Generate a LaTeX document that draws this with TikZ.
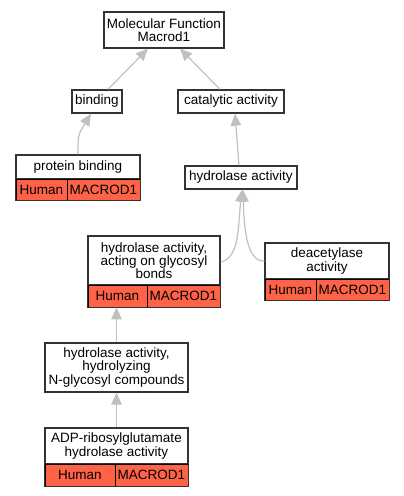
\documentclass[tikz,border=0pt]{standalone}
\usepackage{fontspec}
\setmainfont{Liberation Sans}
\usetikzlibrary{arrows.meta,calc}
\definecolor{cellred}{HTML}{FF6347}
\definecolor{edgegray}{HTML}{C0C0C0}
\definecolor{boxline}{HTML}{333333}
\begin{document}
\begin{tikzpicture}[x=1pt,y=-1pt,
  every node/.style={font=\fontsize{13.5}{13.3}\selectfont, inner sep=0pt, align=center},
  term/.style={draw=boxline, line width=1.3pt, fill=white, minimum width=#1},
  cell/.style={draw=black, line width=0.8pt, fill=cellred, minimum width=#1},
  edge/.style={draw=edgegray, line width=1.2pt, -{Triangle[length=12pt,width=10.5pt,fill=edgegray]}},
  outer/.style={draw=boxline, line width=1.3pt}]
\useasboundingbox (0,0) rectangle (404,496);

% top
\node[term=120, minimum height=36] (mf) at (164,30) {Molecular Function\\Macrod1};
\node[term=50, minimum height=23] (bind) at (97,101.5) {binding};
\node[term=106, minimum height=23] (cat) at (231,101.5) {catalytic activity};

% protein binding
\node[term=124, minimum height=24] (pb) at (78,167) {protein binding};
\node[cell=51, minimum height=21] (pbH) at (41.5,189.5) {Human};
\node[cell=73, minimum height=21] (pbM) at (103.5,189.5) {MACROD1};
\draw[outer] (pb.north west) rectangle (pbM.south east);

% hydrolase activity
\node[term=112, minimum height=23] (hyd) at (241,177.5) {hydrolase activity};

% glycosyl
\node[term=132, minimum height=49] (gly) at (154,260.5) {hydrolase activity,\\acting on glycosyl\\bonds};
\node[cell=59, minimum height=22] (glyH) at (117.5,296) {Human};
\node[cell=73, minimum height=22] (glyM) at (183.5,296) {MACROD1};
\draw[outer] (gly.north west) rectangle (glyM.south east);

% deacetylase
\node[term=124, minimum height=36] (dea) at (327,261) {deacetylase\\activity};
\node[cell=51, minimum height=21] (deaH) at (290.5,289.5) {Human};
\node[cell=73, minimum height=21] (deaM) at (352.5,289.5) {MACROD1};
\draw[outer] (dea.north west) rectangle (deaM.south east);

% N-glycosyl
\node[term=143, minimum height=49] (ng) at (116.5,367.5) {hydrolase activity,\\hydrolyzing\\N-glycosyl compounds};

% ADP
\node[term=143, minimum height=36] (adp) at (116.5,446) {ADP-ribosylglutamate\\hydrolase activity};
\node[cell=70, minimum height=22] (adpH) at (80,475) {Human};
\node[cell=73, minimum height=22] (adpM) at (151.5,475) {MACROD1};
\draw[outer] (adp.north west) rectangle (adpM.south east);

% edges
\draw[edge] ([xshift=11]bind.north) -- ([xshift=-16]mf.south);
\draw[edge] ([xshift=-11]cat.north) -- ([xshift=16]mf.south);
\draw[edge] (pb.north) .. controls (78,135) .. ([xshift=-6]bind.south);
\draw[edge] ([xshift=-2]hyd.north) -- ([xshift=4]cat.south);
\draw[edge] ([yshift=-1.5]gly.east) .. controls (240,258) and (238,225) .. ([xshift=1]hyd.south);
\draw[edge] (dea.west) .. controls (246,262) and (244,225) .. ([xshift=2]hyd.south);
\draw[edge] (ng.north) -- (ng.north |- glyH.south);
\draw[edge] (adp.north) -- (ng.south);
\end{tikzpicture}
\end{document}
